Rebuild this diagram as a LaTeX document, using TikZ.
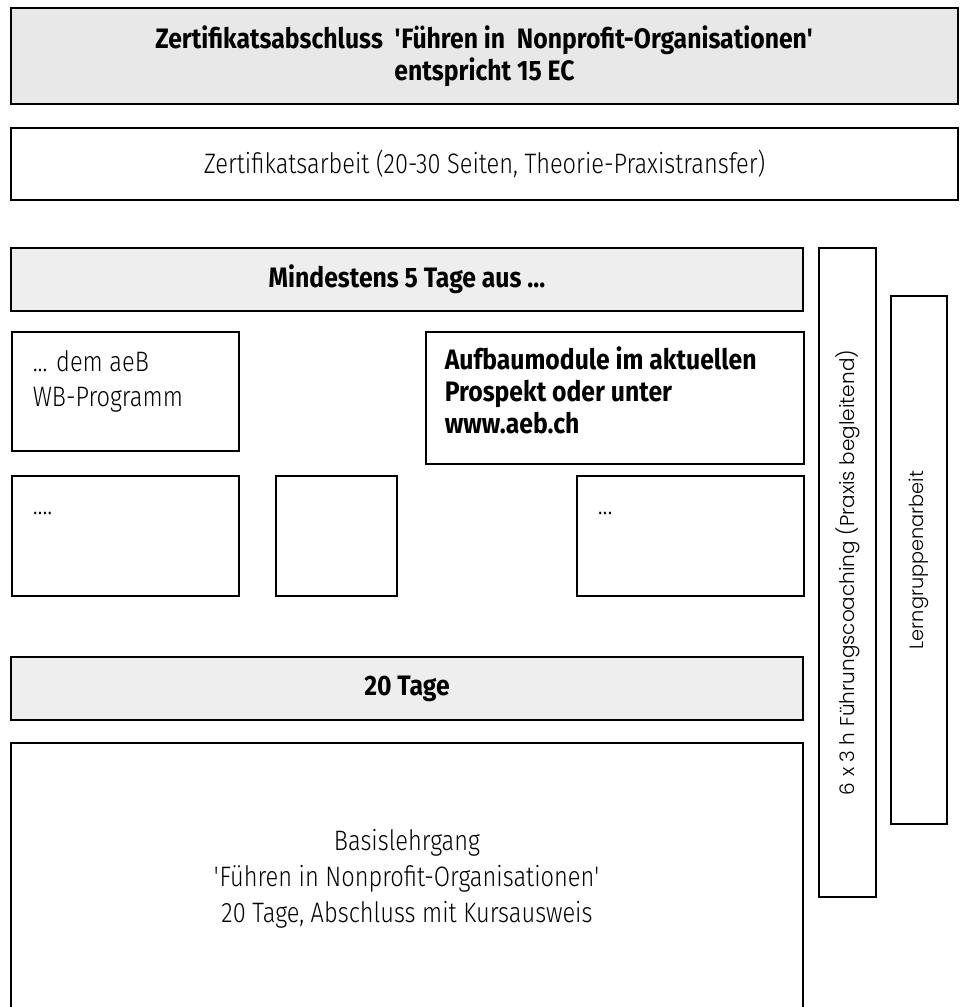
\documentclass[tikz,border=0pt]{standalone}
\usepackage{fontspec}
\setmainfont{Fira Sans}[UprightFont=* Light, BoldFont=* Bold, UprightFeatures={FakeStretch=0.84}, BoldFeatures={FakeStretch=0.88}]
\newfontfamily\sidefont{Poppins Light}
\usepackage{tikz}
\definecolor{aebhead}{RGB}{232,232,232}
\definecolor{aebbar}{RGB}{238,238,238}
\newcommand{\topleft}[3]{\parbox[c][#2][t]{#1}{\raggedright #3}}

\begin{document}
\begin{tikzpicture}[
      frame/.style={draw=black, line width=0.9pt, inner sep=0pt, align=center, font=\fontsize{16}{20.5}\selectfont},
      wide/.style={frame, minimum width=18.94cm},
      bar/.style={frame, fill=aebbar, minimum width=15.84cm, minimum height=1.26cm, font=\fontsize{16}{20}\selectfont\bfseries},
      cell/.style={frame, anchor=north west, align=left},
      side/.style={frame, rotate=90, font=\sidefont\fontsize{11}{14}\selectfont}
    ]
      \useasboundingbox (0,0) rectangle (19.26,20.14);

      \node[wide, fill=aebhead, minimum height=1.92cm, font=\fontsize{16}{18}\selectfont\bfseries] (head) at (9.69, 19.02) {
        Zertifikatsabschluss\ \ \textquotesingle Führen in\ \ Nonprofit-Organisationen\textquotesingle\\
        entspricht 15 EC
      };

      \node[wide, minimum height=1.44cm] (thesis) at (9.69, 16.86) {Zertifikatsarbeit (20-30 Seiten, Theorie-Praxistransfer)};

      \node[bar] (minfive) at (8.14, 14.55) {Mindestens 5 Tage aus ...};

      \node[cell, minimum width=4.54cm, minimum height=2.38cm] (aeb) at (0.22, 13.52) {\topleft{3.7cm}{1.62cm}{\fontsize{16}{20}\selectfont ... dem aeB\\WB-Programm}};

      \node[cell, minimum width=7.56cm, minimum height=2.64cm] (aufbau) at (8.50, 13.52) {\topleft{6.8cm}{2.04cm}{\fontsize{16}{18.2}\selectfont\bfseries Aufbaumodule im aktuellen\\Prospekt oder unter\\www.aeb.ch}};

      \node[cell, minimum width=4.54cm, minimum height=2.40cm] (dotsa) at (0.22, 10.64) {\topleft{3.7cm}{1.64cm}{\vphantom{B}....}};
      \node[cell, minimum width=2.42cm, minimum height=2.40cm] (blank) at (5.50, 10.64) {};
      \node[cell, minimum width=4.54cm, minimum height=2.40cm] (dotsb) at (11.52, 10.64) {\topleft{3.7cm}{1.64cm}{\vphantom{B}...}};

      \node[bar] (twenty) at (8.14, 6.37) {20 Tage};

      \node[frame, minimum width=15.84cm, minimum height=5.44cm] (basis) at (8.14, 2.56) {
        Basislehrgang\\
        \textquotesingle Führen in Nonprofit-Organisationen\textquotesingle\\
        20 Tage, Abschluss mit Kursausweis
      };

      \node[side, minimum width=12.98cm, minimum height=1.14cm, font=\sidefont\fontsize{11.4}{14}\selectfont] (coach) at (16.95, 8.69) {6 x 3 h Führungscoaching (Praxis begleitend)};
      \node[side, minimum width=10.56cm, minimum height=1.12cm] (lern) at (18.38, 8.94) {Lerngruppenarbeit};
    \end{tikzpicture}
\end{document}
